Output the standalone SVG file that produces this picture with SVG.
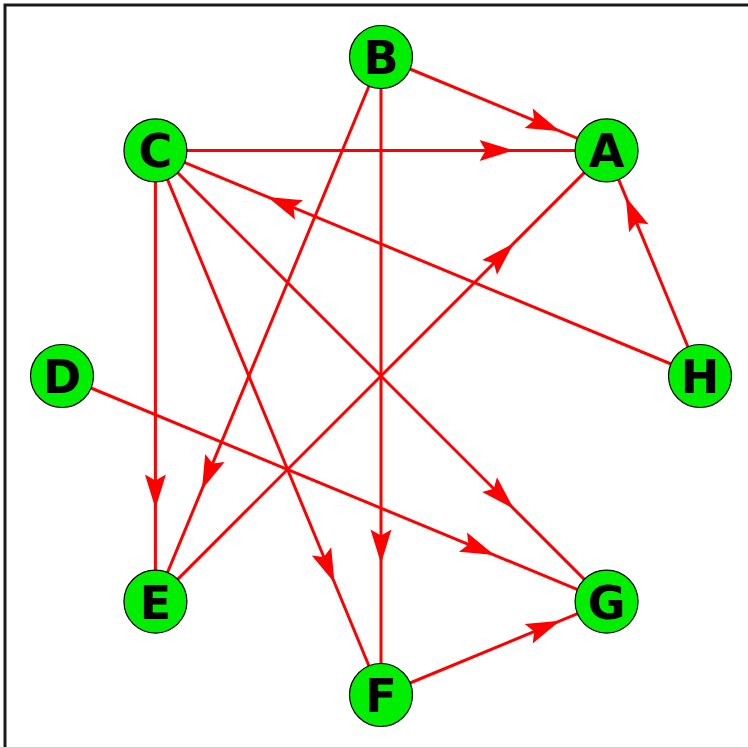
<svg xmlns="http://www.w3.org/2000/svg" width="748" height="748" viewBox="0 0 748 748">
<style>
.edge{fill:none;stroke:#ff0000;stroke-width:3;marker-mid:url(#arr)}
.node circle{fill:#00ee00;stroke:#000;stroke-width:1.2}
.node text{font-family:"DejaVu Sans",sans-serif;font-weight:bold;font-size:46px;text-anchor:middle;fill:#000}
</style>
<defs>
<marker id="arr" markerUnits="userSpaceOnUse" markerWidth="36" markerHeight="24" refX="34" refY="11" orient="auto" overflow="visible">
<path d="M34,11 L0,0.5 L6,11 L0,21.5 Z" fill="#ff0000"/>
</marker>
</defs>
<rect width="748" height="748" fill="#fff"/>
<path d="M5,748 V5 H748" fill="none" stroke="#1a1a1a" stroke-width="3"/>
<line x1="0" y1="747.5" x2="748" y2="747.5" stroke="#d0d0d0" stroke-width="1"/>
<g id="edges">
<polyline class="edge" points="381,57 560.1,131.2 606.57,150.43"/>
<polyline class="edge" points="155.43,150.43 513.6,150.43 606.57,150.43"/>
<polyline class="edge" points="700,376 625.8,196.9 606.57,150.43"/>
<polyline class="edge" points="155.43,601.57 513.6,243.4 606.57,150.43"/>
<polyline class="edge" points="700,376 267.6,196.9 155.43,150.43"/>
<polyline class="edge" points="155.43,150.43 155.43,508.6 155.43,601.57"/>
<polyline class="edge" points="381,57 201.9,489.4 155.43,601.57"/>
<polyline class="edge" points="155.43,150.43 334.5,582.8 381,695"/>
<polyline class="edge" points="381,57 381,563.6 381,695"/>
<polyline class="edge" points="155.43,150.43 513.6,508.6 606.57,601.57"/>
<polyline class="edge" points="62,376 494.4,555.1 606.57,601.57"/>
<polyline class="edge" points="381,695 560.1,620.8 606.57,601.57"/>
</g>
<g id="node-A" class="node"><circle cx="606.57" cy="150.43" r="31.5"/><text x="606.57" y="167.4">A</text></g>
<g id="node-B" class="node"><circle cx="381" cy="57" r="31.5"/><text x="381" y="74">B</text></g>
<g id="node-C" class="node"><circle cx="155.43" cy="150.43" r="31.5"/><text x="155.43" y="167.4">C</text></g>
<g id="node-D" class="node"><circle cx="62" cy="376" r="31.5"/><text x="62" y="393">D</text></g>
<g id="node-E" class="node"><circle cx="155.43" cy="601.57" r="31.5"/><text x="155.43" y="618.6">E</text></g>
<g id="node-F" class="node"><circle cx="381" cy="695" r="31.5"/><text x="381" y="712">F</text></g>
<g id="node-G" class="node"><circle cx="606.57" cy="601.57" r="31.5"/><text x="606.57" y="618.6">G</text></g>
<g id="node-H" class="node"><circle cx="700" cy="376" r="31.5"/><text x="700" y="393">H</text></g>
</svg>
